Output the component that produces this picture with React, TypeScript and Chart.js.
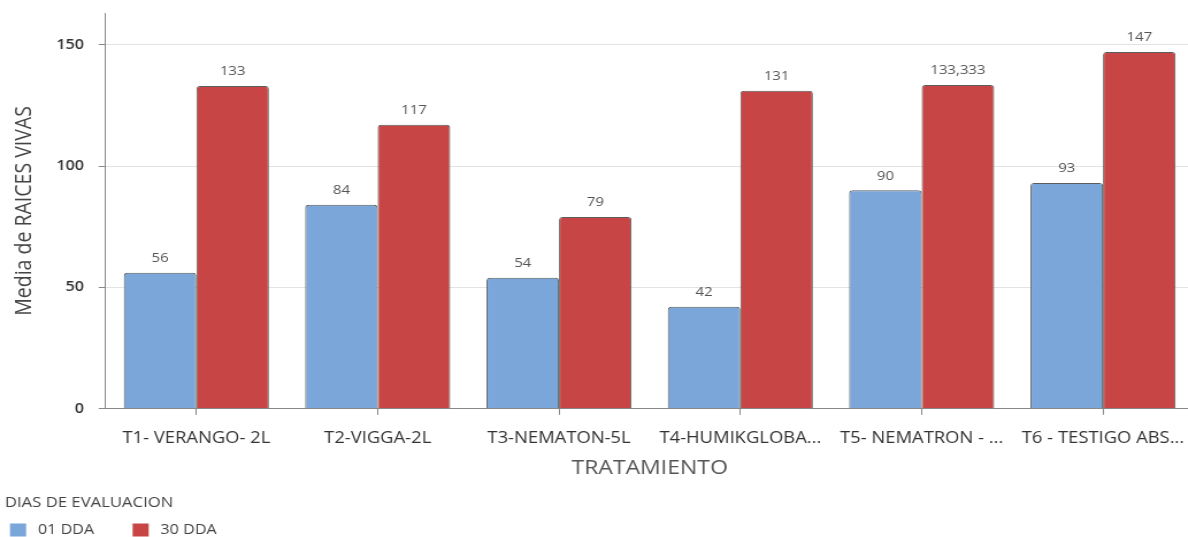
import React, { useEffect, useRef } from "react";
import { Chart, registerables } from "chart.js";

Chart.register(...registerables);

const categories = [
  "T1- VERANGO- 2L",
  "T2-VIGGA-2L",
  "T3-NEMATON-5L",
  "T4-HUMIKGLOBA...",
  "T5- NEMATRON - ...",
  "T6 - TESTIGO ABS...",
];
const series01 = [56, 84, 54, 42, 90, 93];
const series30 = [133, 117, 79, 131, 133.333, 147];
const seriesNames = ["01 DDA", "30 DDA"];
const seriesColors = ["#7BA6D9", "#C84545"];
const legendTitle = "DIAS DE EVALUACION";
const yTicks = [0, 50, 100, 150];

const FONT = "'Open Sans', 'Noto Sans', sans-serif";
const SX = 1.15;
const CW = 1044;

const fmt = (v: number) => {
  const s = Number.isInteger(v) ? String(v) : v.toFixed(3);
  return s.replace(".", ",");
};

const valueLabels = {
  id: "valueLabels",
  afterDatasetsDraw(chart: any) {
    const ctx = chart.ctx;
    ctx.save();
    ctx.font = `13px ${FONT}`;
    ctx.fillStyle = "#555";
    ctx.textAlign = "center";
    ctx.textBaseline = "bottom";
    chart.data.datasets.forEach((ds: any, di: number) => {
      const meta = chart.getDatasetMeta(di);
      meta.data.forEach((el: any, i: number) => {
        ctx.fillText(fmt(ds.data[i]), el.x, el.y - 8);
      });
    });
    ctx.restore();
  },
};

const bottomLegend = {
  id: "bottomLegend",
  afterDraw(chart: any) {
    const ctx = chart.ctx;
    const h = chart.height;
    ctx.save();
    ctx.textAlign = "left";
    ctx.textBaseline = "middle";
    ctx.fillStyle = "#444";
    ctx.font = `14.5px ${FONT}`;
    ctx.fillText(legendTitle, 4.3, h - 34);
    ctx.font = `14px ${FONT}`;
    const itemY = h - 7;
    let x = 8.7;
    chart.data.datasets.forEach((ds: any) => {
      ctx.fillStyle = ds.backgroundColor;
      ctx.fillRect(x, itemY - 6.5, 14, 13);
      ctx.fillStyle = "#444";
      const tx = x + 24.3;
      ctx.fillText(ds.label, tx, itemY);
      x = tx + ctx.measureText(ds.label).width + 33.5;
    });
    ctx.restore();
  },
};

export default function App() {
  const ref = useRef<HTMLCanvasElement>(null);
  useEffect(() => {
    if (!ref.current) return;
    const chart = new Chart(ref.current, {
      type: "bar",
      data: {
        labels: categories,
        datasets: seriesNames.map((name, i) => ({
          label: name,
          data: i === 0 ? series01 : series30,
          backgroundColor: seriesColors[i],
          borderColor: "#5c5c5c",
          borderWidth: 1,
          borderRadius: { topLeft: 3, topRight: 3 },
          borderSkipped: "bottom",
          categoryPercentage: 0.8,
          barPercentage: 1.0,
        })),
      },
      options: {
        animation: false,
        responsive: true,
        maintainAspectRatio: false,
        layout: { padding: { left: 4, right: 3, top: 4, bottom: 57 } },
        plugins: {
          tooltip: { enabled: false },
          legend: { display: false },
        },
        scales: {
          x: {
            grid: {
              display: true,
              drawOnChartArea: false,
              offset: false,
              tickLength: 6,
              color: "#888",
            },
            border: { display: true, color: "#888" },
            ticks: {
              color: "#333",
              font: { family: FONT, size: 16 },
              padding: 14,
              maxRotation: 0,
              autoSkip: false,
            },
            title: {
              display: true,
              text: "TRATAMIENTO",
              color: "#555",
              font: { family: FONT, size: 20 },
              padding: { top: -6, bottom: 0 },
            },
          },
          y: {
            min: 0,
            max: 163,
            afterBuildTicks: (scale: any) => {
              scale.ticks = yTicks.map((v) => ({ value: v }));
            },
            grid: {
              color: (c: any) => (c.tick && c.tick.value === 0 ? "#888" : "#e3e3e3"),
              tickColor: "#888",
              tickLength: 6,
            },
            border: { display: true, color: "#888" },
            ticks: {
              color: "#333",
              font: { family: FONT, size: 14, weight: "600", lineHeight: 0.01 },
              padding: 13,
            },
            title: {
              display: true,
              text: "Media de RAICES VIVAS",
              color: "#444",
              font: { family: FONT, size: 19.5 },
              padding: { top: 6, bottom: 2.5 },
            },
          },
        },
      },
      plugins: [valueLabels, bottomLegend],
    });
    return () => chart.destroy();
  }, []);
  return (
    <div
      style={{
        position: "fixed",
        left: 0,
        top: 0,
        width: 1188,
        height: 537,
        overflow: "hidden",
        background: "#fff",
      }}
    >
      <div
        style={{
          position: "relative",
          width: CW,
          height: 537,
          transform: `scaleX(${SX})`,
          transformOrigin: "0 0",
        }}
      >
        <canvas ref={ref} />
      </div>
    </div>
  );
}
